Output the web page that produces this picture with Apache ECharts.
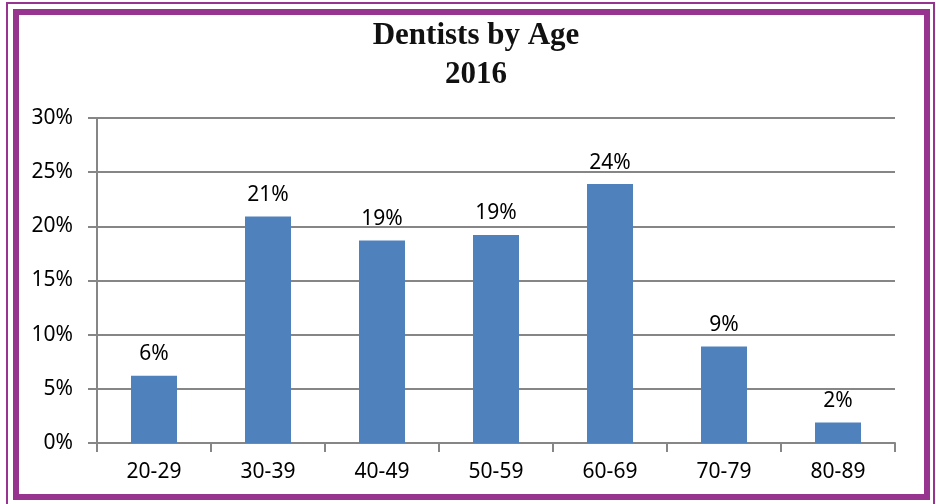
<!DOCTYPE html>
<html>
<head>
<meta charset="utf-8">
<script src="https://cdn.jsdelivr.net/npm/echarts@6/dist/echarts.min.js"></script>
<style>
  html, body { margin: 0; padding: 0; background: #fff; }
  #chart { width: 936px; height: 504px; }
</style>
</head>
<body>
<div id="chart"></div>
<script>
// age groups and share of dentists (%)
const ageGroups = ['20-29', '30-39', '40-49', '50-59', '60-69', '70-79', '80-89']
const shares = [6.2, 20.9, 18.7, 19.2, 23.9, 8.9, 1.9]
const yTicks = { min: 0, max: 30, interval: 5 }

const chart = echarts.init(document.getElementById('chart'))
const purple = '#973490'
const labelFont = 'Noto Sans'

chart.setOption({
  animation: false,
  title: {
    text: 'Dentists by Age\n2016',
    left: 471,
    top: 11,
    textAlign: 'center',
    textStyle: {
      fontFamily: 'Liberation Serif',
      fontWeight: 'bold',
      fontSize: 31,
      lineHeight: 39,
      color: '#111'
    }
  },
  grid: { left: 97, right: 41, top: 118, bottom: 61 },
  xAxis: {
    type: 'category',
    data: ageGroups,
    axisLine: { lineStyle: { color: '#868686', width: 2 } },
    axisTick: { show: true, length: 9, lineStyle: { color: '#868686', width: 2 } },
    axisLabel: { color: '#000', fontFamily: labelFont, fontSize: 21, margin: 19 }
  },
  yAxis: {
    type: 'value',
    min: yTicks.min,
    max: yTicks.max,
    interval: yTicks.interval,
    axisLine: { show: true, lineStyle: { color: '#868686', width: 2 } },
    axisTick: { show: true, length: 9, lineStyle: { color: '#868686', width: 2 } },
    splitLine: { lineStyle: { color: '#868686', width: 2 } },
    axisLabel: {
      color: '#000', fontFamily: labelFont, fontSize: 21, margin: 24,
      formatter: '{value}%'
    }
  },
  series: [{
    type: 'bar',
    data: shares,
    barWidth: 46,
    itemStyle: { color: '#4F81BD' },
    label: {
      show: true,
      position: 'top',
      distance: 11,
      color: '#000',
      fontFamily: labelFont,
      fontSize: 21,
      formatter: p => Math.round(p.value) + '%'
    }
  }],
  graphic: [
    {
      type: 'rect',
      shape: { x: 7, y: 3, width: 927, height: 520 },
      style: { fill: 'none', stroke: purple, lineWidth: 2 },
      silent: true
    },
    {
      type: 'rect',
      shape: { x: 16, y: 12, width: 911, height: 485 },
      style: { fill: 'none', stroke: purple, lineWidth: 6 },
      silent: true
    }
  ]
})
</script>
</body>
</html>
